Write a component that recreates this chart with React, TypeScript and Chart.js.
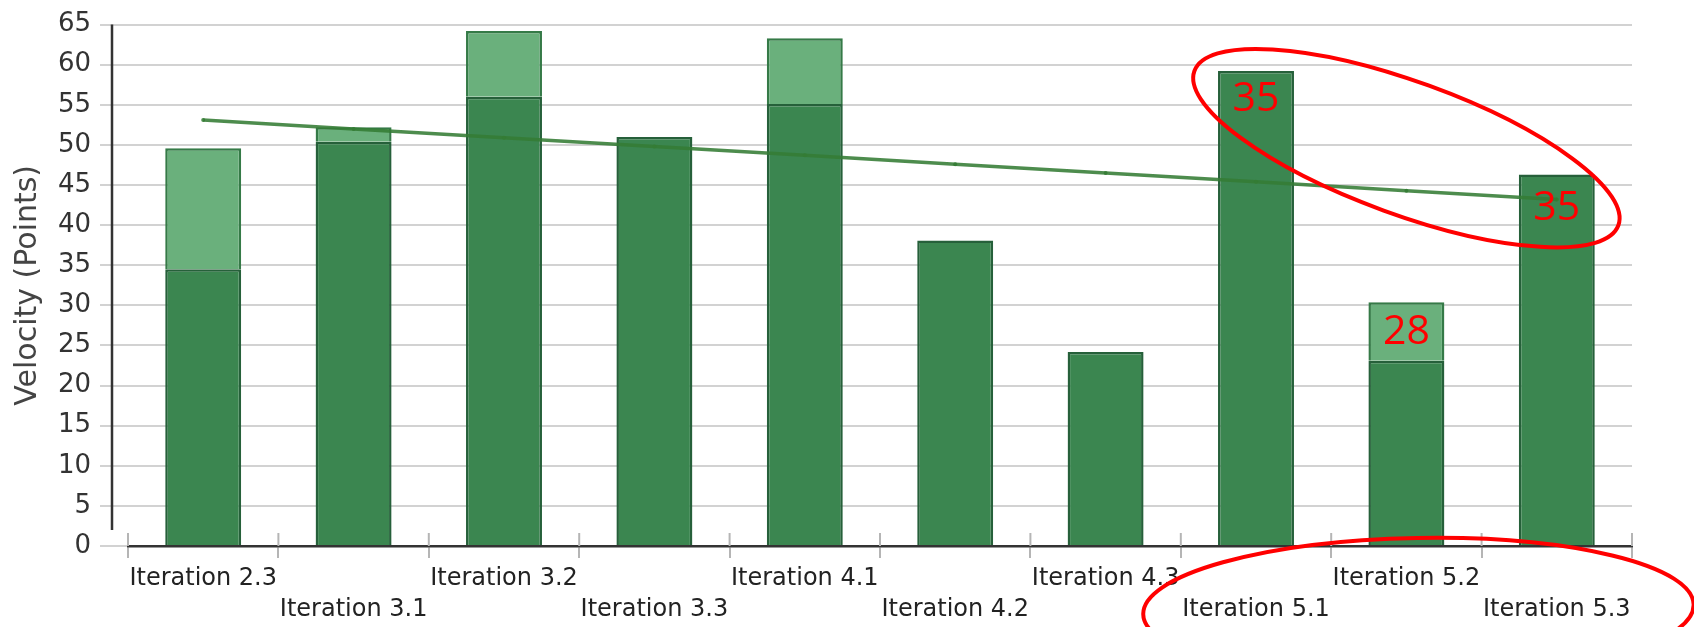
import React, { useEffect, useRef } from "react";
import { Chart, registerables } from "chart.js";

Chart.register(...registerables);

const categories = [
  "Iteration 2.3", "Iteration 3.1", "Iteration 3.2", "Iteration 3.3", "Iteration 4.1",
  "Iteration 4.2", "Iteration 4.3", "Iteration 5.1", "Iteration 5.2", "Iteration 5.3",
];
const completedPoints = [34.5, 50.4, 56, 51, 55.1, 38.1, 24.2, 59.2, 23.1, 46.3];
const remainingPoints = [15.1, 1.8, 8.2, 0, 8.2, 0, 0, 0, 7.3, 0];
const trendPoints = [53.1, 52.0, 50.9, 49.8, 48.7, 47.6, 46.5, 45.4, 44.3, 43.2];
const yTickValues = [0, 5, 10, 15, 20, 25, 30, 35, 40, 45, 50, 55, 60, 65];

// red hand-drawn annotations (category index, value)
const noteTexts = ["35", "28", "35"];
const noteIndex = [7, 8, 9];
const noteValue = [55.7, 26.6, 42.1];
// ellipses: center index, center value, radius in categories, radius in value units, rotation deg
const ellipseIndex = [8.0, 8.08];
const ellipseValue = [49.6, -7.9];
const ellipseRx = [1.5, 1.83];
const ellipseRy = [8.28, 8.9];
const ellipseRot = [20, -1];

const annotationPlugin = {
  id: "annotations",
  afterDraw(chart: any) {
    const { ctx, chartArea, scales } = chart;
    const x = scales.x;
    const y = scales.y;
    ctx.save();
    // offset y axis line
    ctx.strokeStyle = "#333";
    ctx.lineWidth = 2.5;
    ctx.beginPath();
    const ax = chartArea.left - 16;
    ctx.moveTo(ax, y.getPixelForValue(65));
    ctx.lineTo(ax, chartArea.bottom - 16);
    ctx.stroke();
    // upper part of x tick marks
    ctx.strokeStyle = "#b5b5b5";
    ctx.lineWidth = 2;
    const step = x.getPixelForValue(1) - x.getPixelForValue(0);
    for (let i = 0; i <= categories.length; i++) {
      const px = x.getPixelForValue(0) - step / 2 + i * step;
      ctx.beginPath();
      ctx.moveTo(px, chartArea.bottom - 13);
      ctx.lineTo(px, chartArea.bottom);
      ctx.stroke();
    }
    // red texts
    ctx.fillStyle = "#ff0000";
    ctx.font = "41px 'Open Sans'";
    ctx.textAlign = "center";
    ctx.textBaseline = "middle";
    noteTexts.forEach((t, i) => {
      ctx.fillText(t, x.getPixelForValue(noteIndex[i]), y.getPixelForValue(noteValue[i]));
    });
    // red ellipses
    const unitY = y.getPixelForValue(0) - y.getPixelForValue(1);
    ctx.strokeStyle = "#ff0000";
    ctx.lineWidth = 4;
    ellipseIndex.forEach((ci, i) => {
      const cx = x.getPixelForValue(0) + ci * step;
      const cy = y.getPixelForValue(ellipseValue[i]);
      ctx.beginPath();
      ctx.ellipse(cx, cy, ellipseRx[i] * step, ellipseRy[i] * unitY, (ellipseRot[i] * Math.PI) / 180, 0, Math.PI * 2);
      ctx.stroke();
    });
    ctx.restore();
  },
};

export default function App() {
  const canvasRef = useRef<HTMLCanvasElement | null>(null);

  useEffect(() => {
    document.body.style.margin = "0";
    const canvas = canvasRef.current;
    if (!canvas) return;
    const labels = categories.map((c, i) => (i % 2 === 0 ? [c, ""] : ["", c]));
    const chart = new Chart(canvas, {
      type: "bar",
      data: {
        labels,
        datasets: [
          {
            type: "line",
            label: "Trend",
            data: trendPoints,
            borderColor: "rgba(52,124,52,0.88)",
            backgroundColor: "rgba(52,124,52,0.88)",
            borderWidth: 3.5,
            pointRadius: 2,
            pointBorderWidth: 0,
            order: 0,
            stack: "trend",
          } as any,
          {
            label: "Completed",
            data: completedPoints,
            backgroundColor: "#3b8650",
            borderColor: "#26603a",
            borderWidth: 2.5,
            order: 1,
          },
          {
            label: "Remaining",
            data: remainingPoints,
            backgroundColor: "#6ab07c",
            borderColor: "#357a47",
            borderWidth: 2.5,
            order: 1,
          },
        ],
      },
      options: {
        animation: false,
        responsive: false,
        events: [],
        layout: { padding: { top: 20, right: 62, left: 0, bottom: 0 } },
        plugins: { legend: { display: false }, tooltip: { enabled: false } },
        datasets: { bar: { categoryPercentage: 1, barPercentage: 0.505 } },
        scales: {
          x: {
            stacked: true,
            grid: {
              display: true,
              drawOnChartArea: false,
              drawTicks: true,
              tickLength: 12,
              color: "#b5b5b5",
              lineWidth: 2,
              offset: true,
            },
            border: { display: true, color: "#333", width: 2.5 },
            ticks: {
              autoSkip: false,
              maxRotation: 0,
              minRotation: 0,
              padding: 5,
              color: "#222",
              font: { family: "'DejaVu Sans'", size: 24, lineHeight: 1.3 },
            },
            afterFit(scale: any) {
              scale.height = 81;
            },
          },
          y: {
            stacked: true,
            min: 0,
            max: 65,
            afterBuildTicks(scale: any) {
              scale.ticks = yTickValues.map((v) => ({ value: v }));
            },
            grid: { color: "#d2d2d2", lineWidth: 2, tickLength: 28 },
            border: { display: false },
            ticks: {
              padding: 9,
              color: "#333",
              font: { family: "'DejaVu Sans'", size: 26 },
            },
            title: {
              display: true,
              text: "Velocity (Points)",
              color: "#444",
              font: { family: "'DejaVu Sans'", size: 30, lineHeight: 1.2 },
              padding: { top: 10, bottom: 0 },
            },
            afterFit(scale: any) {
              scale.width = 128;
            },
          },
        },
      },
      plugins: [annotationPlugin],
    });
    return () => chart.destroy();
  }, []);

  return (
    <div style={{ width: 1694, height: 627, background: "#fff" }}>
      <canvas ref={canvasRef} width={1694} height={627} style={{ display: "block" }} />
    </div>
  );
}
